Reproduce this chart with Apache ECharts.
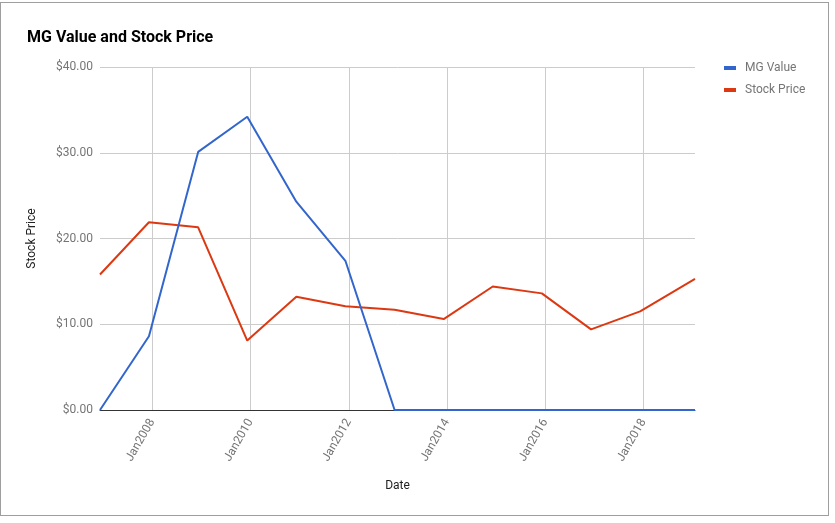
<!DOCTYPE html>
<html>
<head>
<meta charset="utf-8">
<script src="https://cdn.jsdelivr.net/npm/echarts@6/dist/echarts.min.js"></script>
<style>
html,body{margin:0;padding:0;background:#fff;}
#frame{position:absolute;left:0;top:2px;width:829px;height:514px;border:1px solid #9e9e9e;box-sizing:border-box;}
#chart{position:absolute;left:0;top:0;width:835px;height:523px;}
</style>
</head>
<body>
<div id="frame"></div>
<div id="chart"></div>
<script>
const dates = ['2006-12-08','2007-12-07','2008-12-07','2009-12-07','2010-12-07','2011-12-07','2012-12-07','2013-12-07','2014-12-07','2015-12-07','2016-12-07','2017-12-07','2019-01-19'];
const mgValue = [0, 8.6, 30.1, 34.2, 24.3, 17.4, 0, 0, 0, 0, 0, 0, 0];
const stockPrice = [15.8, 21.9, 21.3, 8.1, 13.2, 12.1, 11.7, 10.6, 14.4, 13.6, 9.4, 11.5, 15.3];
const xTickLabels = ['2008-01-01','2010-01-01','2012-01-01','2014-01-01','2016-01-01','2018-01-01'];

const ts = d => new Date(d + 'T00:00:00Z').getTime();
const xTicks = xTickLabels.map(ts);
const monthNames = ['Jan','Feb','Mar','Apr','May','Jun','Jul','Aug','Sep','Oct','Nov','Dec'];

const chart = echarts.init(document.getElementById('chart'), null, {renderer:'canvas'});
chart.setOption({
  animation: false,
  backgroundColor: 'transparent',
  title: {
    text: 'MG Value and Stock Price',
    left: 27, top: 30, padding: 0,
    textStyle: {fontFamily: 'Roboto', fontSize: 16, fontWeight: 'bold', color: '#000'}
  },
  legend: {
    orient: 'vertical',
    left: 719, top: 57,
    itemWidth: 12, itemHeight: 4, itemGap: 10,
    icon: 'rect',
    textStyle: {fontFamily: 'Roboto', fontSize: 12, color: '#757575', padding: [0, 0, 0, 4]},
    data: ['MG Value', 'Stock Price']
  },
  grid: {left: 100, right: 140, top: 67, bottom: 113, containLabel: false},
  xAxis: {
    type: 'value',
    min: ts(dates[0]),
    max: ts(dates[dates.length - 1]),
    name: 'Date',
    nameLocation: 'middle',
    nameGap: 70,
    nameTextStyle: {fontFamily: 'Roboto', fontSize: 12, color: '#222'},
    axisLine: {show: true, onZero: false, lineStyle: {color: '#333', width: 1}},
    axisTick: {show: false, customValues: xTicks},
    splitLine: {show: true, lineStyle: {color: '#ccc', width: 1}},
    axisLabel: {
      customValues: xTicks,
      rotate: 60,
      margin: 10,
      fontFamily: 'Roboto', fontSize: 12, color: '#757575',
      formatter: v => { const d = new Date(v); return monthNames[d.getUTCMonth()] + d.getUTCFullYear(); }
    }
  },
  yAxis: {
    type: 'value',
    min: 0, max: 40, interval: 10,
    name: 'Stock Price',
    nameLocation: 'middle',
    nameGap: 62,
    nameTextStyle: {fontFamily: 'Roboto', fontSize: 12, color: '#222'},
    axisLine: {show: false},
    axisTick: {show: false},
    splitLine: {show: true, lineStyle: {color: '#ccc', width: 1}},
    axisLabel: {
      margin: 7,
      fontFamily: 'Roboto', fontSize: 12, color: '#757575',
      formatter: v => '$' + v.toFixed(2)
    }
  },
  series: [
    {
      name: 'MG Value', type: 'line',
      data: dates.map((d, i) => [ts(d), mgValue[i]]),
      showSymbol: false, symbol: 'none',
      lineStyle: {color: '#3366CC', width: 2},
      itemStyle: {color: '#3366CC'},
      z: 3
    },
    {
      name: 'Stock Price', type: 'line',
      data: dates.map((d, i) => [ts(d), stockPrice[i]]),
      showSymbol: false, symbol: 'none',
      lineStyle: {color: '#DC3912', width: 2},
      itemStyle: {color: '#DC3912'},
      z: 2
    }
  ]
});
</script>
</body>
</html>
